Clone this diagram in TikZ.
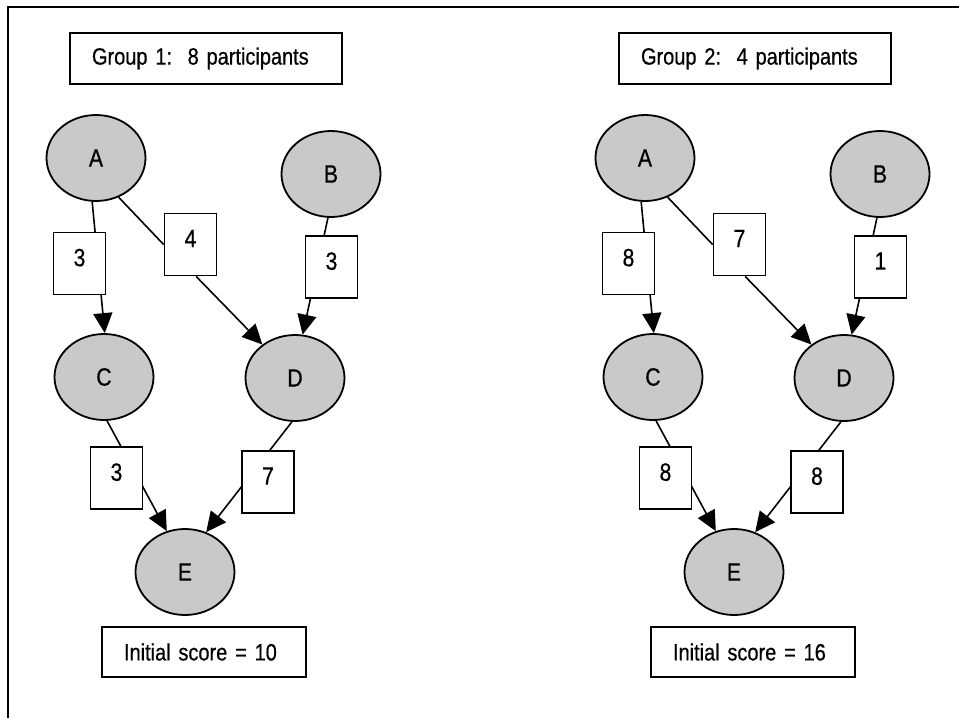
\documentclass[tikz,border=0pt]{standalone}
\usepackage{fontspec}
\setmainfont{Liberation Sans}[FakeStretch=0.85,FakeBold=0.6,WordSpace=0.7]
\usetikzlibrary{shapes.geometric,arrows.meta,backgrounds}
\tikzset{
  state/.style={ellipse,draw=black,line width=1.8pt,fill=black!21,minimum width=99pt,minimum height=86pt,inner sep=0pt,font=\fontsize{25}{28}\selectfont},
  wbox/.style={rectangle,draw=black,line width=1.8pt,fill=white,minimum width=52pt,minimum height=62pt,inner sep=0pt,text depth=12pt,font=\fontsize{25}{28}\selectfont},
  titlebox/.style={rectangle,draw=black,line width=1.8pt,fill=white,inner xsep=22pt,inner ysep=0pt,minimum height=51pt,align=left,font=\fontsize{23.5}{27}\selectfont},
  edge/.style={line width=1.6pt,-{Triangle[length=20pt,width=19pt]}},
  plain/.style={line width=1.6pt},
}
\newcommand\mygroup[9]{%
\begin{scope}[xshift=#2pt]
  \node[titlebox,text width=228pt] (#1title) at (206,58.5) {#3};
  \node[state] (#1A) at (96,158) {A};
  \node[state] (#1B) at (331,174) {B};
  \node[state] (#1C) at (104,377) {C};
  \node[state] (#1D) at (295,378) {D};
  \node[state] (#1E) at (185,572) {E};
  \node[wbox] (#1ac) at (79.5,263.5) {#4};
  \node[wbox] (#1ad) at (190.5,244.5) {#5};
  \node[wbox] (#1bd) at (331.5,267) {#6};
  \node[wbox] (#1ce) at (116.5,478) {#7};
  \node[wbox] (#1de) at (268,482) {#8};
  \node[titlebox,text width=160pt,minimum height=50pt] (#1score) at (204,652) {#9};
  \begin{pgfonlayer}{background}
    \draw[edge] (#1A.-95) -- (#1C.89);
    \draw[plain] (#1A.-60) -- (#1ad.west);
    \draw[edge] (#1ad.-80) -- (#1D);
    \draw[edge] (#1B.-94) -- (#1D.80);
    \draw[edge] (#1C.-86) -- (#1E.114);
    \draw[edge] (#1D.-94) -- (#1E.62);
  \end{pgfonlayer}
\end{scope}}
\begin{document}
\begin{tikzpicture}[x=1pt,y=-1pt]
  \useasboundingbox (0,0) rectangle (959,718);
  \draw[line width=2pt] (8,718) -- (8,7) -- (959,7);
  \mygroup{g1}{0}{Group 1:\ \ 8 participants}{3}{4}{3}{3}{7}{Initial score = 10}
  \mygroup{g2}{549}{Group 2:\ \ 4 participants}{8}{7}{1}{8}{8}{Initial score = 16}
\end{tikzpicture}
\end{document}
